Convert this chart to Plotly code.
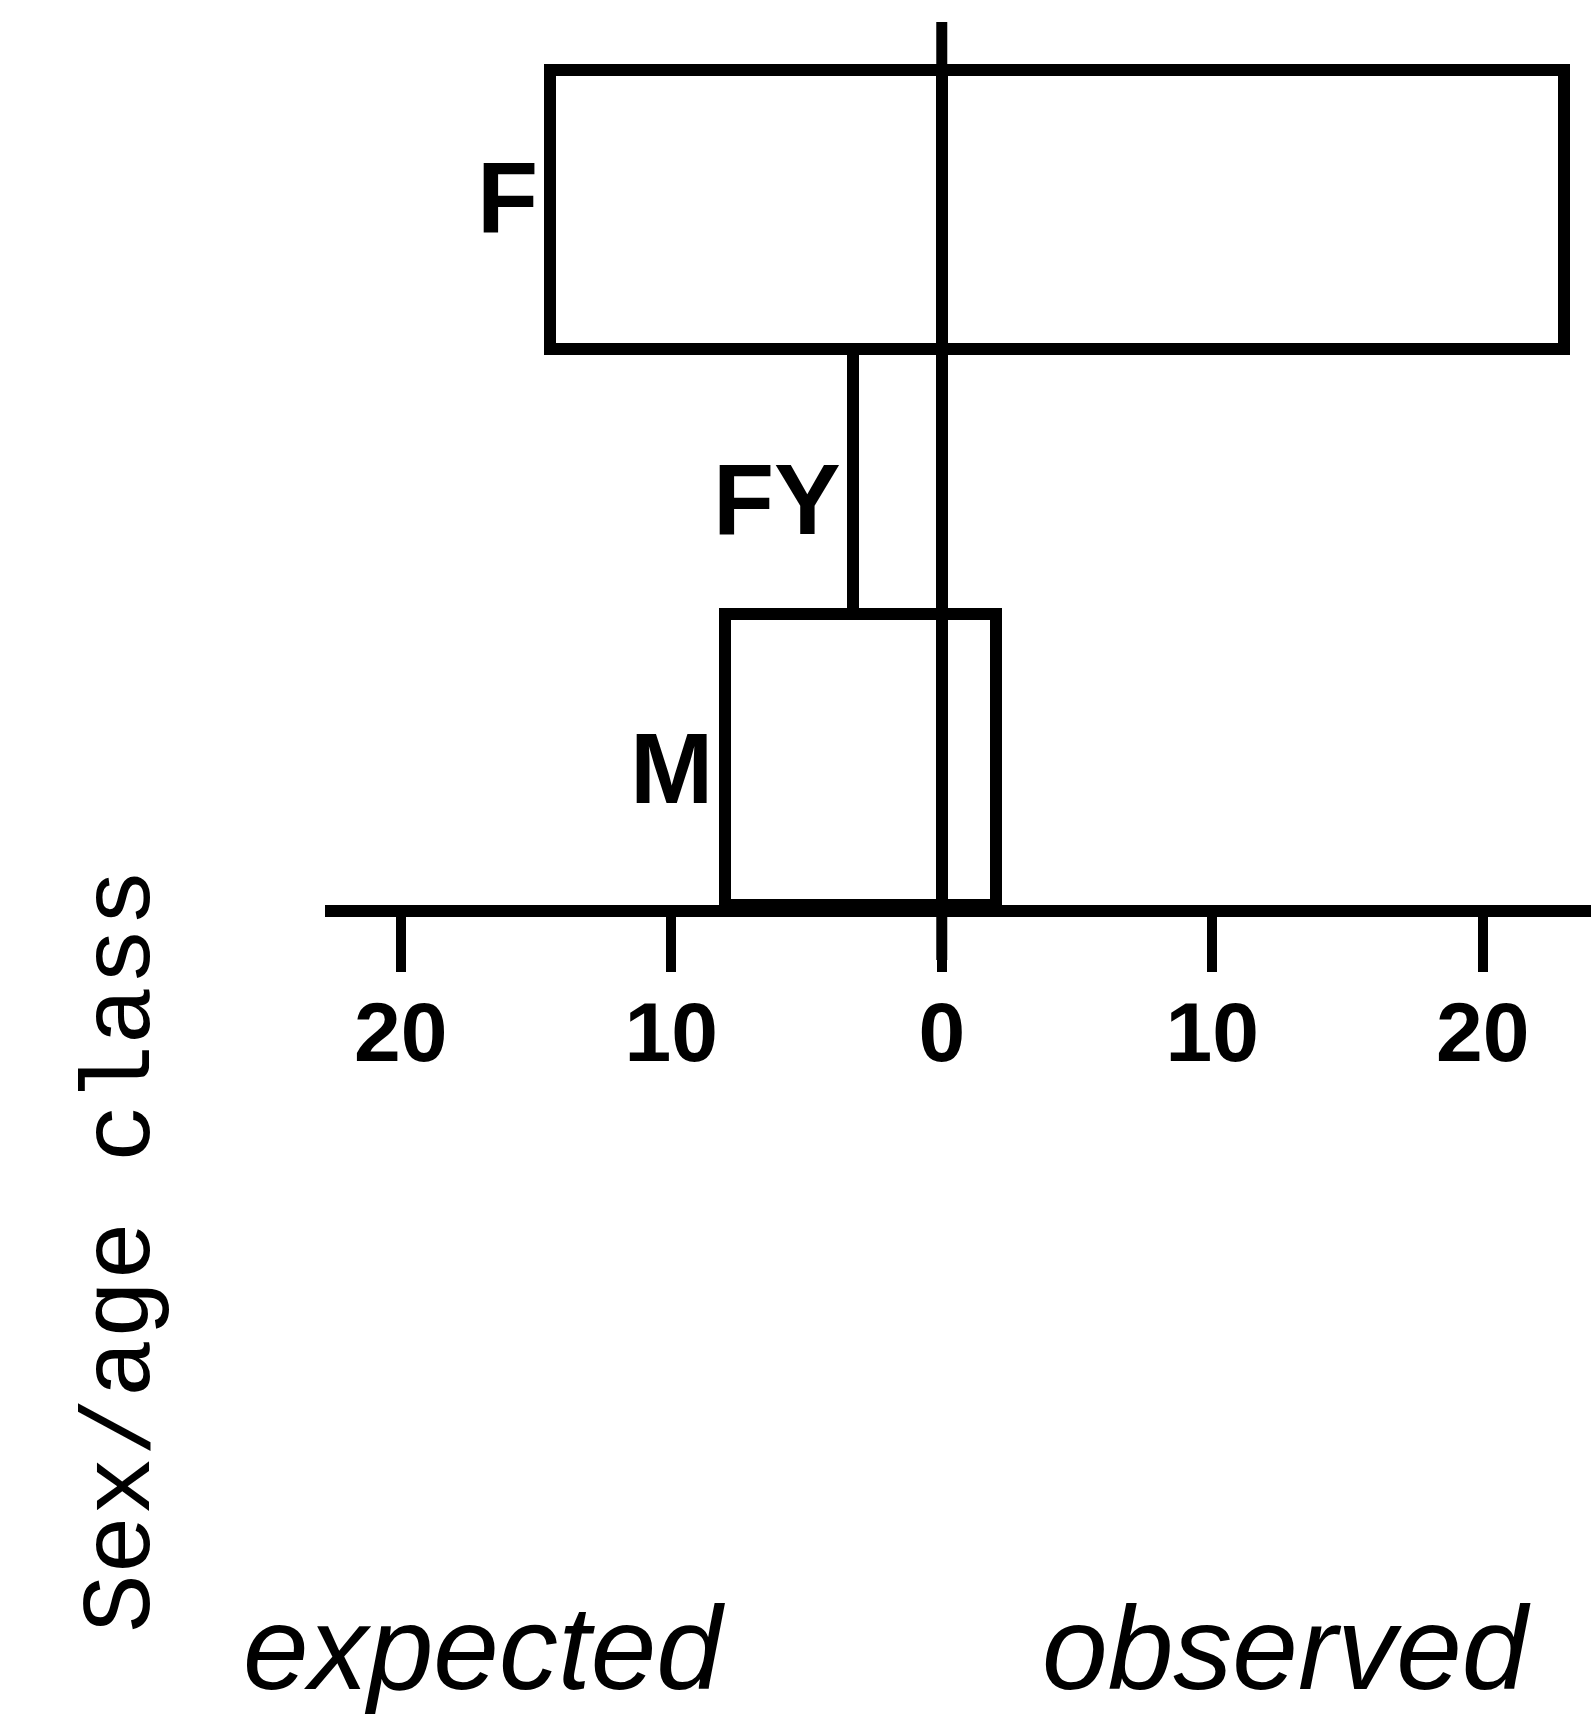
import plotly.graph_objects as go

# Sex/age classes, bottom to top, with expected (left) and observed (right) counts
classes = ["M", "FY", "F"]
expected = [8.0, 3.3, 14.5]
observed = [2, 0, 23]

tick_values = [-20, -10, 0, 10, 20]
tick_text = ["20", "10", "0", "10", "20"]

W, H = 1591, 1719
plot_left, plot_right = 325, 1591
plot_top, plot_bottom = 53, 905
x_range = [-22.8, 24.0]
y_range = [-0.5, 2.56]

# band thickness of each class row (axis units) and its offset from the category centre
band_width = [1.046, 0.951, 1.003]
band_offset = [-0.5, -0.454, -0.503]

LINE = 12
INK = "black"


def ypaper(px):
    """Convert a page pixel row to paper coordinates."""
    return (plot_bottom - px) / (plot_bottom - plot_top)


def xpaper(px):
    return (px - plot_left) / (plot_right - plot_left)


fig = go.Figure()

bar_style = dict(
    orientation="h",
    width=band_width,
    offset=band_offset,
    marker=dict(color="white", line=dict(color=INK, width=LINE)),
    cliponaxis=False,
    hoverinfo="skip",
    showlegend=False,
)
fig.add_trace(go.Bar(y=classes, x=[-v for v in expected], name="expected", **bar_style))
fig.add_trace(go.Bar(y=classes, x=observed, name="observed", **bar_style))

# zero line running through the bars and down to the axis tick
fig.add_shape(
    type="line", xref="x", yref="paper",
    x0=0, x1=0, y0=ypaper(960), y1=ypaper(22),
    line=dict(color=INK, width=11),
)

# class labels beside the left end of each bar
label_yshift = {"F": 12, "FY": -12, "M": -2}
for c, e in zip(classes, expected):
    fig.add_annotation(
        x=-e, y=c, xref="x", yref="y",
        text=c, showarrow=False, xanchor="right", yanchor="middle",
        xshift=-10, yshift=label_yshift[c],
        font=dict(family="Liberation Sans, Arial, sans-serif", size=100, color=INK, weight="bold"),
    )

# vertical axis title
fig.add_annotation(
    x=xpaper(122), y=ypaper(1251), xref="paper", yref="paper",
    text="Sex/age class", showarrow=False, textangle=-90,
    xanchor="center", yanchor="middle",
    font=dict(family="Liberation Mono, Courier New, monospace", size=98, color=INK),
)

# side captions
for txt, cx in (("expected", 484), ("observed", 1286)):
    fig.add_annotation(
        x=xpaper(cx), y=ypaper(1648), xref="paper", yref="paper",
        text=txt, showarrow=False, xanchor="center", yanchor="middle",
        font=dict(family="Liberation Sans, Arial, sans-serif", size=118, color=INK, style="italic"),
    )

fig.update_layout(
    width=W, height=H,
    margin=dict(l=plot_left, r=W - plot_right, t=plot_top, b=H - plot_bottom, pad=0),
    paper_bgcolor="white", plot_bgcolor="white",
    barmode="relative", bargap=0,
    xaxis=dict(
        range=x_range, showgrid=False, zeroline=False,
        showline=True, linecolor=INK, linewidth=LINE,
        ticks="outside", ticklen=55, tickwidth=10, tickcolor=INK,
        tickvals=tick_values, ticktext=tick_text,
        ticklabelstandoff=-12,
        tickfont=dict(family="Liberation Sans Narrow, Liberation Sans, Arial, sans-serif",
                      size=84, color=INK, weight="bold"),
        fixedrange=True,
    ),
    yaxis=dict(
        range=y_range, visible=False, type="category",
        categoryorder="array", categoryarray=classes, fixedrange=True,
    ),
)

fig.write_html("out.html")
